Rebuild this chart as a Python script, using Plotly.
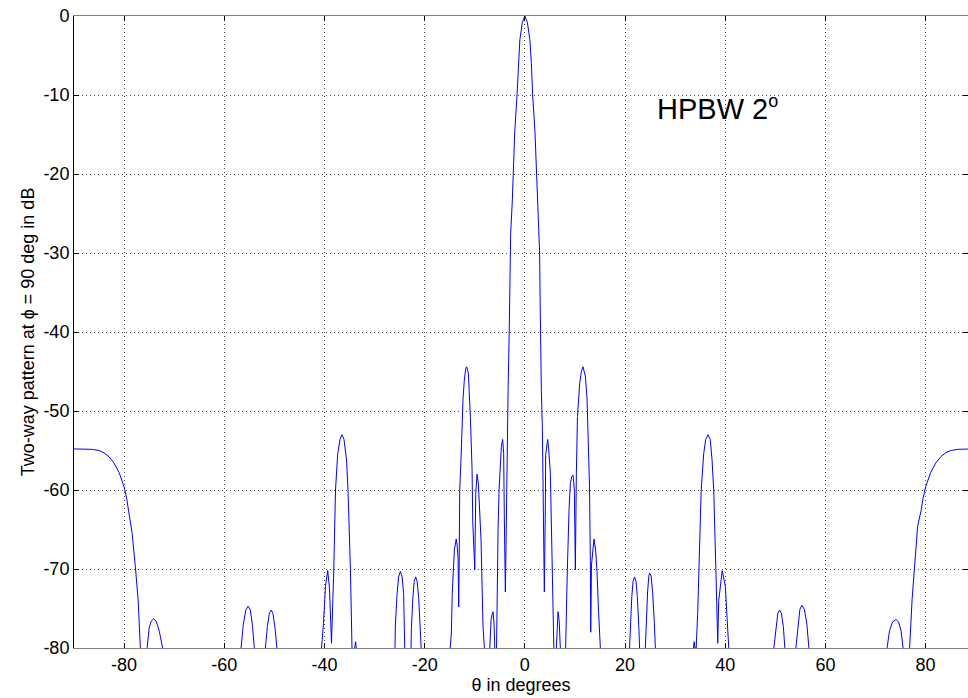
import plotly.graph_objects as go

# angle (deg) and two-way pattern (dB); values below -80 dB are clipped by the axis
theta = [
    -90, -88, -86.5, -85, -84, -83, -82, -81, -80, -79.5, -79.1, -78.4, -77.75, -77.2, -76.75, -76.6,
    -75.6, -75.4, -75.0, -74.6, -74.1, -73.6, -73.0, -72.5, -72.3, -72.1,
    -56.85, -56.65, -56.2, -55.7, -55.25, -54.8, -54.4, -54.0, -53.8,
    -52.0, -51.8, -51.4, -51.0, -50.66, -50.3, -49.9, -49.5, -49.3,
    -40.8, -40.6, -40.2, -39.8, -39.35, -39.0, -38.6, -38.16, -37.8, -37.36, -36.9, -36.5,
    -36.1, -35.6, -35.3, -34.8, -34.4, -34.2,
    -33.95, -33.8, -33.65, -33.5,
    -26.2, -26.0, -25.85, -25.5, -25.2, -24.85, -24.5, -24.2, -24.0, -23.85, -23.65,
    -23.0, -22.8, -22.65, -22.35, -22.1, -21.8, -21.5, -21.2, -20.9, -20.7, -20.5,
    -15.1, -14.9, -14.67, -14.5, -14.2, -14.07, -13.7, -13.5, -13.33, -13.2,
    -13.1, -13.0, -12.74, -12.54, -12.34, -12.08, -11.8, -11.6, -11.28, -10.88, -10.68,
    -10.54, -10.4, -10.2, -10.0, -9.8, -9.68, -9.55, -9.28, -9.02, -8.75, -8.35, -8.08, -7.9,
    -7.2, -7.0, -6.75, -6.5, -6.35, -6.15, -6.0, -5.85,
    -5.85, -5.69, -5.55, -5.35, -5.15, -4.89, -4.69, -4.43, -4.23, -4.09, -3.89,
    -3.69, -3.55, -3.35, -3.12, -3.05, -2.95, -2.83, -2.5, -2.3, -2.03, -1.56, -1.3, -1.0, -0.5,
    0,
    0.5, 1.0, 1.3, 1.56, 2.03, 2.36, 2.5, 2.83, 2.95, 3.05, 3.12, 3.29, 3.49, 3.75,
    3.89, 4.09, 4.15, 4.55, 4.75, 5.09, 5.29, 5.55, 5.65, 5.85,
    6.1, 6.29, 6.45, 6.62, 6.85, 7.08, 7.25,
    7.95, 8.14, 8.28, 8.48, 8.82, 9.08, 9.35, 9.62, 9.88, 10.08,
    10.28, 10.5, 10.94, 11.28, 11.6, 12.08, 12.41, 12.6, 12.7, 12.9, 13.07, 13.15,
    13.3, 13.47, 13.8, 14.13, 14.4, 14.67, 14.93, 15.07, 15.25,
    20.7, 20.9, 21.05, 21.35, 21.6, 21.9, 22.2, 22.45, 22.75, 22.9, 23.1,
    23.85, 24.05, 24.2, 24.5, 24.75, 24.9, 25.2, 25.5, 25.85, 26.05, 26.25,
    33.5, 33.65, 33.8, 33.95,
    34.2, 34.5, 34.83, 35.2, 35.7, 36.1, 36.57, 37.0, 37.37, 37.7, 38.15, 38.5,
    38.7, 39.0, 39.4, 40.02, 40.36, 40.7, 40.9,
    49.5, 49.7, 50.1, 50.5, 50.86, 51.2, 51.6, 51.9, 52.1,
    53.9, 54.1, 54.5, 54.9, 55.3, 55.8, 56.3, 56.7, 56.9,
    72.1, 72.3, 72.8, 73.4, 74.1, 74.6, 75.1, 75.5, 75.7,
    76.6, 76.8, 77.3, 77.7, 78.4, 79.1, 79.5, 80, 81, 82, 83, 84, 85, 86.5, 88, 90,
]
pattern_db = [
    -54.8, -54.8, -54.85, -55.0, -55.3, -55.8, -56.6, -57.8, -59.6, -61.0, -62.6, -65.5, -69.7, -73.9, -80, -90,
    -90, -80, -77.5, -76.6, -76.3, -76.6, -77.8, -79.3, -80, -90,
    -90, -80, -77.0, -75.2, -74.7, -75.2, -77.0, -80, -90,
    -90, -80, -77.3, -75.6, -75.2, -75.6, -77.3, -80, -90,
    -90, -80, -76.9, -72.2, -70.2, -72.5, -79.4, -70.5, -60.0, -55.4, -53.6, -53.0,
    -53.6, -56.2, -60.0, -70.5, -80, -90,
    -80, -79.2, -80, -90,
    -90, -80, -77.1, -73.1, -71.0, -70.3, -71.0, -73.1, -77.1, -80, -90,
    -90, -80, -77.5, -73.6, -71.6, -71.0, -71.6, -73.6, -77.5, -80, -90,
    -90, -80, -78.1, -73.1, -70.1, -67.6, -66.2, -67.1, -68.8, -74.8,
    -68.5, -60.0, -56.0, -52.0, -48.4, -46.1, -44.6, -44.4, -45.2, -50.7, -53.7,
    -57.3, -64.0, -68.0, -70.1, -60.4, -58.3, -58.0, -59.2, -62.5, -66.3, -77.3, -80, -90,
    -90, -80, -76.5, -75.6, -75.4, -77.0, -80, -90,
    -90, -80, -74.8, -65.1, -60.0, -57.5, -54.5, -53.6, -55.4, -63.8, -72.9,
    -63.8, -52.0, -47.3, -40.0, -36.0, -30.0, -27.5, -23.3, -20.0, -14.8, -10.0, -6.0, -3.0, -0.8,
    0.0,
    -0.8, -3.0, -6.0, -10.0, -14.8, -20.0, -23.3, -27.5, -30.0, -36.0, -41.0, -47.3, -52.0, -62.1,
    -72.9, -62.0, -55.6, -53.6, -54.8, -57.9, -65.1, -74.8, -80, -90,
    -90, -80, -76.5, -75.4, -76.5, -80, -90,
    -90, -80, -73.1, -70.1, -62.5, -59.2, -58.3, -58.1, -60.0, -70.1,
    -57.9, -50.7, -46.5, -45.0, -44.4, -45.6, -48.4, -52.0, -55.8, -59.4, -68.9, -78.0,
    -69.5, -68.0, -66.2, -67.6, -70.3, -74.8, -78.1, -80, -90,
    -90, -80, -77.3, -73.5, -71.6, -71.0, -71.6, -73.5, -77.3, -80, -90,
    -90, -80, -76.8, -72.9, -70.9, -70.5, -70.9, -72.9, -76.8, -80, -90,
    -90, -80, -79.2, -80,
    -80, -75.6, -67.2, -60.0, -55.4, -53.6, -53.0, -53.6, -56.2, -60.0, -70.5, -79.4,
    -74.0, -72.5, -70.2, -72.2, -76.9, -80, -90,
    -90, -80, -77.3, -75.6, -75.2, -75.6, -77.3, -80, -90,
    -90, -80, -77.0, -75.1, -74.6, -75.1, -77.0, -80, -90,
    -90, -80, -77.8, -76.7, -76.4, -76.7, -77.8, -80, -90,
    -90, -80, -73.9, -70.1, -64.6, -62.6, -61.0, -59.6, -57.8, -56.6, -55.8, -55.3, -55.0, -54.85, -54.8, -54.8,
]

x_ticks = [-80, -60, -40, -20, 0, 20, 40, 60, 80]
x_tick_labels = ["-80", "-60", "-40", "-20", "0", "20", "40", "60", "80"]
y_ticks = [-80, -70, -60, -50, -40, -30, -20, -10, 0]
y_tick_labels = ["-80", "-70", "-60", "-50", "-40", "-30", "-20", "-10", "0"]

font_family = "Liberation Sans, Arial, sans-serif"

fig = go.Figure()
fig.add_trace(go.Scatter(
    x=theta, y=pattern_db, mode="lines",
    line=dict(color="#0000FF", width=1),
    hoverinfo="skip", showlegend=False,
))

fig.add_annotation(
    x=26.0, y=-11.7, xref="x", yref="y", xanchor="left", yanchor="middle",
    text="HPBW 2<sup><span style='font-size:18px'>o</span></sup>", showarrow=False,
    font=dict(family=font_family, size=29, color="black"),
)

axis_common = dict(
    showgrid=True, gridcolor="rgba(0,0,0,0.7)", griddash="1px,3px", gridwidth=1,
    zeroline=False, showline=True, mirror="ticks",
    ticks="inside", ticklen=5, tickcolor="black",
    tickfont=dict(family=font_family, size=18, color="black"),
)

fig.update_layout(
    width=968, height=698,
    margin=dict(l=74, r=0, t=16, b=50),
    paper_bgcolor="white", plot_bgcolor="white",
    xaxis=dict(
        range=[-90, 88.46], tickvals=x_ticks, ticktext=x_tick_labels, linecolor="#808080",
        title=dict(text="θ in degrees", font=dict(family=font_family, size=18, color="black"), standoff=2),
        **axis_common,
    ),
    yaxis=dict(
        range=[-80, 0], tickvals=y_ticks, ticktext=y_tick_labels, linecolor="black",
        title=dict(text="Two-way pattern at ϕ = 90 deg in dB", font=dict(family=font_family, size=18, color="black"), standoff=4),
        **axis_common,
    ),
)

fig.write_html("out.html")
